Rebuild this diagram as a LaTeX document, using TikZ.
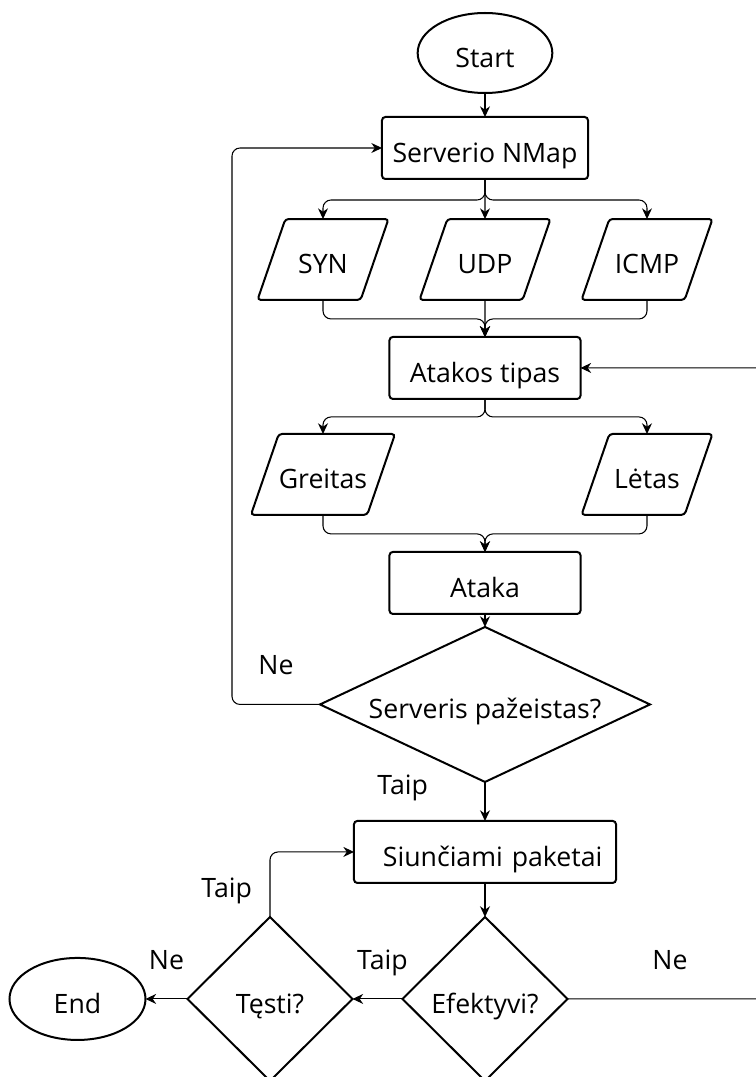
\documentclass[tikz,border=0pt]{standalone}
\usepackage{fontspec}
\setmainfont{Open Sans}
\usetikzlibrary{arrows.meta,positioning,shapes.geometric}

\begin{document}
\begin{tikzpicture}[font=\fontsize{20}{24}\selectfont,
  every node/.style={align=center, inner sep=0pt, outer sep=0pt, text height=21.1pt, text depth=0pt},
  term/.style={draw, ellipse, line width=1.5pt, minimum width=101pt, minimum height=60pt},
  proc/.style={draw, rounded corners=2.5pt, line width=1.5pt, minimum height=46.5pt},
  io/.style={draw, trapezium, trapezium left angle=71, trapezium right angle=109, trapezium stretches body, rounded corners=2.5pt, line width=1.5pt, inner ysep=19.8pt, minimum width=98.25pt},
  dec/.style={draw, diamond, line width=1.5pt},
  lbl/.style={text height=14.4pt, text depth=5pt},
  arr/.style={-{Stealth[length=8pt,width=7.5pt]}, line width=0.8pt, rounded corners=6pt}]
\useasboundingbox (-363.75pt,39.75pt) rectangle (203.25pt,-768pt);
\clip (-363.75pt,39.75pt) rectangle (203.25pt,-768pt);
\fill[white] (-363.75pt,39.75pt) rectangle (203.25pt,-768pt);

\node[term] (start) at (0,0) {Start};
\node[proc, minimum width=154.5pt, below=18pt of start] (nmap) {Serverio NMap};
\node[io, below=30pt of nmap] (udp) {UDP};
\node[io, on grid, left=121.5pt of udp] (syn) {SYN};
\node[io, on grid, right=121.5pt of udp] (icmp) {ICMP};
\node[proc, minimum width=143.25pt, below=27.75pt of udp] (tipas) {Atakos tipas};
\node[io, below=100.5pt of syn] (greit) {Greitas};
\node[io, below=100.5pt of icmp] (letas) {Lėtas};
\node[proc, minimum width=143.25pt, below=114.75pt of tipas] (ataka) {Ataka};
\node[dec, aspect=2.13, minimum width=247.5pt, minimum height=116.25pt, below=9.75pt of ataka] (chk) {Serveris pažeistas?};
\node[proc, minimum width=196.5pt, text width=176pt, align=right, below=29.25pt of chk] (siunc) {Siunčiami paketai};
\node[dec, minimum width=123.75pt, minimum height=123pt, below=25.5pt of siunc] (efekt) {Efektyvi?};
\node[dec, minimum width=123.75pt, minimum height=123pt, left=37.5pt of efekt] (testi) {Tęsti?};
\node[term, minimum width=102pt, minimum height=61.5pt, left=31.5pt of testi] (end) {End};

% scan types
\draw[arr] (start) -- (nmap);
\draw[arr] (nmap) -- (udp);
\foreach \n in {syn,icmp}
  \draw[arr] (nmap.south) -- ++(0,-15.75pt) -| (\n.north);
\draw[arr] (udp) -- (tipas);
\foreach \n in {syn,icmp}
  \draw[arr] (\n.south) -- ++(0,-14.25pt) -| (tipas.north);

% attack speed
\foreach \n in {greit,letas} {
  \draw[arr] (tipas.south) -- ++(0,-13.5pt) -| (\n.north);
  \draw[arr] (\n.south) -- ++(0,-14.25pt) -| (ataka.north);
}
\draw[arr] (ataka) -- (chk);
\draw[arr] (chk) -- node[lbl, pos=0.15, left=42.75pt] {Taip} (siunc);
\draw[arr] (chk.west) -- node[lbl, above=17.6pt] {Ne} ++(-66pt,0) |- (nmap.west);

% packets
\draw[arr] (siunc) -- (efekt);
\draw[arr] (efekt) -- node[lbl, pos=0.4, above=16.9pt] {Taip} (testi);
\draw[arr] (testi) -- node[lbl, above=16.9pt] {Ne} (end);
\draw[arr] (testi.north) |- node[lbl, pos=0.2, left=13.5pt] {Taip} (siunc.west);
\draw[arr] (efekt.east) -- node[lbl, pos=0.46, above=16.9pt] {Ne} ++(167pt,0) |- (tipas.east);
\end{tikzpicture}
\end{document}
